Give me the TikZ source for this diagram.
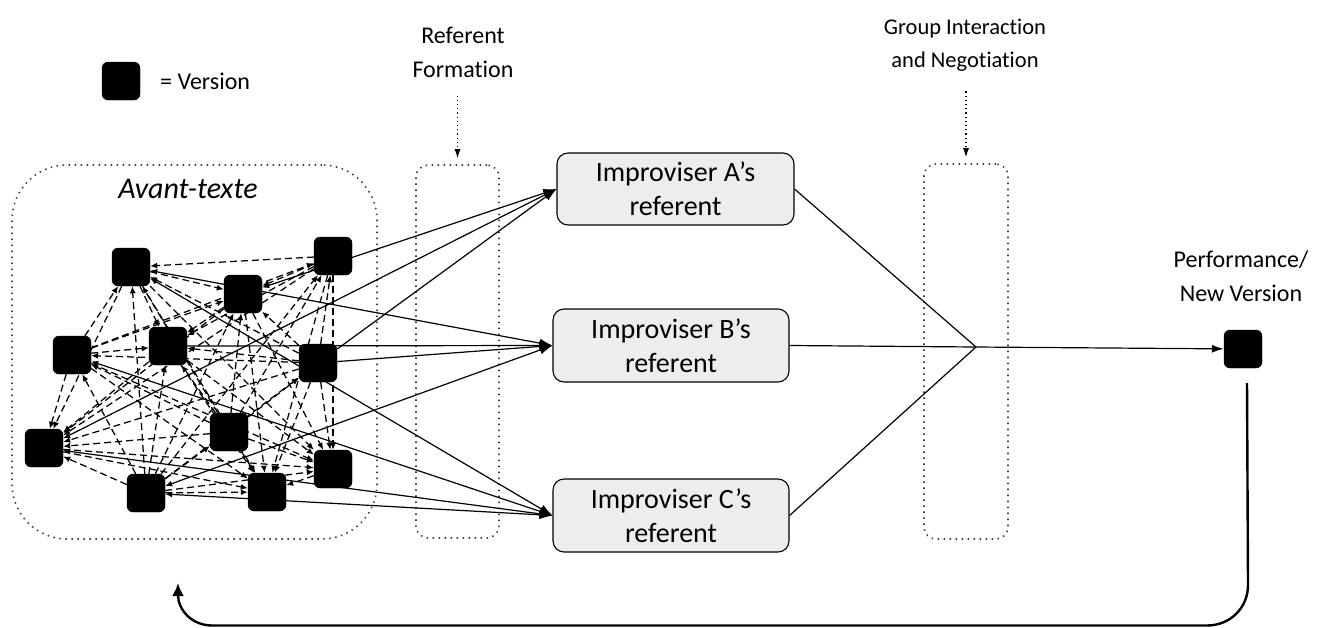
\documentclass[tikz,border=0pt]{standalone}
\usepackage{fontspec}
\setmainfont{Carlito}[Ligatures={NoCommon}]
\usetikzlibrary{arrows.meta,backgrounds,calc}
\begin{document}
\begin{tikzpicture}[x=1pt,y=-1pt,
  ver/.style={fill=black,draw=black,rounded corners=6pt,minimum size=38pt,inner sep=0pt},
  imp/.style={draw=black,line width=1.1pt,fill=black!7,rounded corners=11pt,minimum width=236pt,minimum height=72pt,align=center,inner sep=0pt,font=\fontsize{28}{34}\selectfont},
  zone/.style={draw=black!75,line width=1.6pt,dash pattern=on 1.5pt off 4.5pt,inner sep=0pt},
  dashedge/.style={dash pattern=on 7pt off 4pt,line width=1.25pt,-{Latex[length=7pt,width=6pt]}},
  refedge/.style={line width=1.2pt,{Latex[length=7pt,width=6pt]}-{Latex[length=13pt,width=9pt]}},
  refedgeplain/.style={line width=1.2pt,-{Latex[length=13pt,width=9pt]}},
  pointer/.style={line width=1.1pt,dash pattern=on 1.2pt off 3pt,-{Latex[length=9pt,width=6pt]}},
  lab/.style={font=\fontsize{24}{34}\selectfont,align=center,inner sep=0pt},
  mergeline/.style={line width=1.2pt},
  feedback/.style={line width=2.4pt,-{Latex[length=13pt,width=12pt]}}
]
\useasboundingbox (0,0) rectangle (1340,627);

% legend
\node[ver] (leg) at (121,81) {};
\node[lab,anchor=west] (legtext) at (160,81) {= Version};

% labels
\node[lab,font=\fontsize{30}{34}\itshape] (avtext) at (188,189) {Avant-texte};
\node[lab] (rflab) at (463,52) {Referent\\Formation};
\node[lab,font=\fontsize{22.5}{33}\selectfont] (gilab) at (965,45) {Group Interaction\\and Negotiation};
\node[lab] (perflab) at (1241,276) {Performance/\\New Version};

% versions
\node[ver] (S1) at (131,267) {};
\node[ver] (S2) at (333,256) {};
\node[ver] (S3) at (243,294) {};
\node[ver] (S4) at (72,355) {};
\node[ver] (S5) at (168,346) {};
\node[ver] (S6) at (318,363) {};
\node[ver] (S7) at (44,448) {};
\node[ver] (S8) at (229,432) {};
\node[ver] (S9) at (333,469) {};
\node[ver] (S10) at (146,493) {};
\node[ver] (S11) at (267,492) {};
\node[ver] (P) at (1243,349) {};

% improvisers
\node[imp,minimum width=237pt] (A) at (675.5,189) {Improviser A’s\\referent};
\node[imp,minimum height=73pt] (B) at (671,345.5) {Improviser B’s\\referent};
\node[imp,minimum height=73pt] (C) at (671,515.5) {Improviser C’s\\referent};

\coordinate (m) at (976,347);

\begin{scope}[on background layer]
  \node[zone,rounded corners=55pt,minimum width=365pt,minimum height=374pt] (avant) at (194.5,352) {};
  \node[zone,rounded corners=12pt,minimum width=83pt,minimum height=373pt] (rf) at (457.5,351.5) {};
  \node[zone,rounded corners=12pt,minimum width=84pt,minimum height=375pt] (gi) at (966,351.5) {};

  \draw[pointer,shorten <=18pt,shorten >=6pt] (rflab.south -| rf.north) -- (rf.north);
  \draw[pointer,shorten <=20pt,shorten >=6pt] (gilab.south -| gi.north) -- (gi.north);

  % dashed relations among versions
  \foreach \i [evaluate=\i as \k using int(\i+1)] in {1,...,10} {
    \foreach \j in {\k,...,11} {
      \ifodd\j
        \draw[dashedge] (S\i) -- (S\j);
      \else
        \draw[dashedge] (S\j) -- (S\i);
      \fi
    }
  }

  % referent formation
  \foreach \s in {3,7} \draw[refedge] (S\s) -- (A.west);
  \draw[refedgeplain] (S6) -- (A.west);
  \foreach \s in {1,10} \draw[refedge] (S\s) -- (B.west);
  \foreach \s in {5,6} \draw[refedgeplain] (S\s) -- (B.west);
  \foreach \s in {1,4,7,10} \draw[refedge] (S\s) -- (C.west);

  % negotiation
  \draw[mergeline] (A.east) -- (m);
  \draw[mergeline] (B.east) -- (m);
  \draw[mergeline] (C.east) -- (m);
  \draw[mergeline,-{Latex[length=12pt,width=8pt]}] (m) -- (P);

  % feedback
  \draw[feedback] ([xshift=4pt,yshift=-15pt]P.south) -- (1248,585)
    .. controls (1248,608) and (1230,625.5) .. (1207,625.5) -- (212,625.5)
    .. controls (192,625.5) and (178,610) .. (178,583);
\end{scope}
\end{tikzpicture}
\end{document}
